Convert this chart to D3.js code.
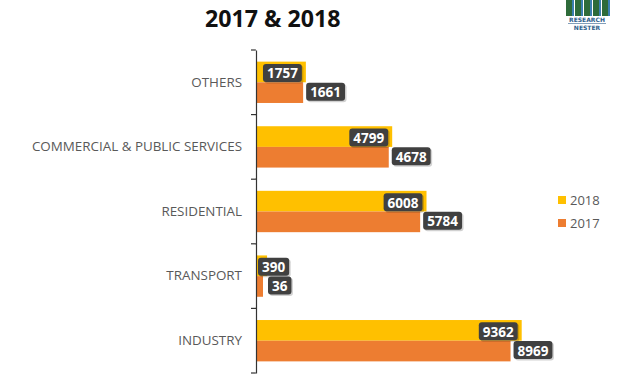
<!DOCTYPE html>
<html><head><meta charset="utf-8">
<script src="https://cdn.jsdelivr.net/npm/d3@7"></script>
<style>body{margin:0;background:#fff}svg{display:block}</style>
</head><body>
<svg id="c" width="625" height="375"></svg>
<script>
const categories = ["OTHERS","COMMERCIAL & PUBLIC SERVICES","RESIDENTIAL","TRANSPORT","INDUSTRY"];
const series = ["2018","2017"];
const values2018 = [1757,4799,6008,390,9362];
const values2017 = [1661,4678,5784,36,8969];
const colors = {"2018":"#FFC000","2017":"#ED7D31"};
const title = "2017 & 2018";

const svg = d3.select("#c");
const x0 = 256;
const x = d3.scaleLinear().domain([0,10000]).range([x0, x0+283.8]);
const y = d3.scaleBand().domain(categories).range([50,373]).paddingInner(0.36).paddingOuter(0.18);
const ySub = d3.scaleBand().domain(series).range([0,y.bandwidth()]);

const data = categories.map((c,i)=>({cat:c, "2018":values2018[i], "2017":values2017[i]}));

// title
svg.append("text").attr("x",205).attr("y",27).attr("font-family","'Open Sans',sans-serif")
  .attr("font-weight","bold").attr("font-size",23.2).attr("fill","#111").text(title);

// logo
const logo = svg.append("g").attr("transform","translate(566,0)");
[0,9,18,27,36].forEach(dx=>{
  logo.append("rect").attr("x",dx).attr("y",0).attr("width",6).attr("height",16).attr("fill","#2e6b3a");
  logo.append("rect").attr("x",dx+6).attr("y",0).attr("width",2).attr("height",16).attr("fill","#3b7fb0");
});
logo.append("text").attr("x",21).attr("y",22).attr("text-anchor","middle").attr("font-family","'DejaVu Sans',sans-serif")
  .attr("font-size",6).attr("font-weight","bold").attr("fill","#2e5e8c").text("RESEARCH");
logo.append("line").attr("x1",2).attr("x2",40).attr("y1",23.5).attr("y2",23.5).attr("stroke","#2e5e8c").attr("stroke-width",0.6);
logo.append("text").attr("x",21).attr("y",30).attr("text-anchor","middle").attr("font-family","'DejaVu Sans',sans-serif")
  .attr("font-size",6).attr("font-weight","bold").attr("fill","#2e5e8c").text("NESTER");

// bars
const g = svg.append("g");
data.forEach(d=>{
  series.forEach(s=>{
    g.append("rect").attr("x",x(0)).attr("y",y(d.cat)+ySub(s))
      .attr("width",Math.max(x(d[s])-x(0),7)).attr("height",ySub.bandwidth()).attr("fill",colors[s]);
  });
});

// axis
const axis = d3.axisLeft(y).tickSize(0).tickPadding(14);
const ax = svg.append("g").attr("transform",`translate(${x0},0)`).call(axis);
ax.select(".domain").attr("stroke","#333").attr("stroke-width",1.2);
ax.selectAll("text").attr("font-family","'Open Sans',sans-serif").attr("font-size",13.4).attr("fill","#595959");
const bounds = [y.range()[0]].concat(categories.map(c=>y(c)+y.bandwidth()+y.step()*y.paddingInner()/2));
bounds[bounds.length-1] = y.range()[1];
svg.append("g").selectAll("line").data(bounds).join("line")
  .attr("x1",x0-5).attr("x2",x0).attr("y1",d=>d).attr("y2",d=>d).attr("stroke","#333").attr("stroke-width",1.2);

// labels
const lg = svg.append("g");
data.forEach(d=>{
  series.forEach(s=>{
    const txt = String(d[s]);
    const yc = y(d.cat)+ySub(s)+ySub.bandwidth()/2 + (s==="2018"?1:-1);
    const t = lg.append("text").attr("font-family","'Open Sans',sans-serif").attr("font-weight","bold")
      .attr("font-size",13.5).attr("fill","#fff").attr("dominant-baseline","central").text(txt);
    const w = t.node().getComputedTextLength()+8;
    let bx = s==="2018" ? x(d[s]) - 4 - w : x(d[s]) + 3;
    bx = Math.max(bx, x0 + (s==="2018" ? 2 : 12));
    lg.insert("rect","text").attr("x",bx+1.5).attr("y",yc-9+1.5).attr("width",w).attr("height",18).attr("rx",3)
      .attr("fill","#000").attr("opacity",0.18);
    lg.insert("rect","text").attr("x",bx).attr("y",yc-9).attr("width",w).attr("height",18).attr("rx",3).attr("fill","#404040");
    t.attr("x",bx+4).attr("y",yc+0.5);
    t.raise();
  });
});

// legend
const leg = svg.append("g");
series.forEach((s,i)=>{
  const yy = 200 + i*23;
  leg.append("rect").attr("x",558).attr("y",yy-4).attr("width",8).attr("height",8).attr("fill",colors[s]);
  leg.append("text").attr("x",570).attr("y",yy).attr("dominant-baseline","central")
    .attr("font-family","'Open Sans',sans-serif").attr("font-size",13).attr("fill","#595959").text(s);
});
</script>
</body></html>
